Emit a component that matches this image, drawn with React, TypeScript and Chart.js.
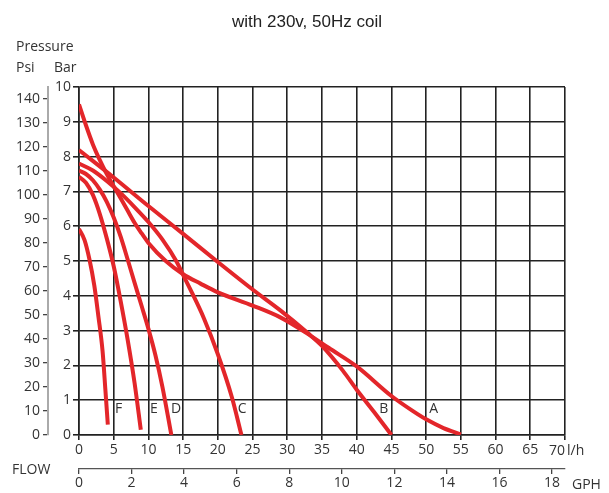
import React, { useEffect, useRef } from 'react';
import { Chart, registerables } from 'chart.js';

Chart.register(...registerables);

// ---- Data (flow in l/h, pressure in bar) ----
const aFlow = [0, 1, 2, 3, 4, 5, 6, 7, 8, 9, 10, 12.5, 15, 17.5, 20, 25, 29, 33, 36, 40, 45, 48, 50, 52.5, 55];
const aBar = [9.5, 8.9, 8.35, 7.9, 7.5, 7.15, 6.8, 6.45, 6.1, 5.8, 5.52, 5.0, 4.62, 4.35, 4.1, 3.72, 3.38, 2.9, 2.5, 1.97, 1.12, 0.7, 0.45, 0.2, 0.02];

const bFlow = [0, 5, 10, 15, 20, 25, 29, 33, 35, 38, 40, 42.5, 45];
const bBar = [8.19, 7.4, 6.58, 5.78, 4.97, 4.18, 3.58, 2.92, 2.56, 1.85, 1.3, 0.66, 0];

const cFlow = [0, 2, 4, 6, 8, 10, 12, 14, 15, 16, 18, 20, 22, 23.4];
const cBar = [7.8, 7.6, 7.3, 6.95, 6.55, 6.12, 5.62, 5.0, 4.6, 4.2, 3.35, 2.32, 1.1, 0];

const dFlow = [0, 1, 2, 3, 4, 5, 6, 7, 8, 9, 10, 11, 12, 13.3];
const dBar = [7.6, 7.5, 7.32, 7.05, 6.7, 6.25, 5.7, 5.05, 4.38, 3.72, 3.05, 2.3, 1.4, 0];

const eFlow = [0, 1, 2, 3, 4, 5, 6, 7, 8, 8.9];
const eBar = [7.42, 7.25, 6.9, 6.35, 5.65, 4.85, 3.85, 2.75, 1.5, 0.15];

const fFlow = [0, 0.8, 1.5, 2.2, 2.8, 3.4, 3.8, 4.15];
const fBar = [5.92, 5.6, 5.05, 4.3, 3.4, 2.4, 1.3, 0.3];

const curveNames = ['A', 'B', 'C', 'D', 'E', 'F'];
const curveFlows = [aFlow, bFlow, cFlow, dFlow, eFlow, fFlow];
const curveBars = [aBar, bBar, cBar, dBar, eBar, fBar];

// curve letter label positions (flow l/h, bar)
const labelFlow = [51.1, 43.9, 23.5, 14.0, 10.8, 5.7];
const labelBar = [0.75, 0.75, 0.75, 0.75, 0.75, 0.75];

const LH_PER_GAL = 3.785411784;
const PSI_PER_BAR = 14.5038;
const FLOW_MAX = 70;
const BAR_MAX = 10;

const TITLE = 'with 230v, 50Hz coil';

const FONT_FAMILY = "'Open Sans', 'Noto Sans', sans-serif";
const TICK_FONT = { family: FONT_FAMILY, size: 14 };
const TEXT_COLOR = '#333';
const RED = '#e3262a';

const textPlugin = {
  id: 'extraText',
  afterDraw(chart: any) {
    const ctx = chart.ctx;
    const xs = chart.scales.x;
    const ys = chart.scales.y;
    ctx.save();
    ctx.fillStyle = '#222';
    ctx.font = "17px 'Liberation Sans', Arial, sans-serif";
    ctx.textAlign = 'center';
    ctx.textBaseline = 'middle';
    ctx.fillText(TITLE, 307, 22);

    ctx.fillStyle = TEXT_COLOR;
    ctx.font = `14px ${FONT_FAMILY}`;
    ctx.textAlign = 'left';
    ctx.fillText('Pressure', 16, 47);
    ctx.fillText('Psi', 16, 68);
    ctx.fillText('Bar', 54, 68);
    ctx.fillText('FLOW', 12, 470);
    ctx.fillText('GPH', 572, 485);

    // last flow tick label placed left of its tick, followed by the unit
    const lastX = xs.getPixelForValue(FLOW_MAX);
    const tickY = xs.top + 16;
    ctx.textAlign = 'right';
    ctx.fillText(String(FLOW_MAX), lastX, tickY);
    ctx.textAlign = 'left';
    ctx.fillText('l/h', lastX + 2, tickY);

    ctx.textAlign = 'center';
    for (let i = 0; i < curveNames.length; i++) {
      ctx.fillText(curveNames[i], xs.getPixelForValue(labelFlow[i]), ys.getPixelForValue(labelBar[i]));
    }
    ctx.restore();
  },
};

export default function App() {
  const ref = useRef<HTMLCanvasElement | null>(null);

  useEffect(() => {
    if (!ref.current) return;
    const datasets = curveNames.map((name, i) => ({
      label: name,
      data: curveFlows[i].map((x, j) => ({ x, y: curveBars[i][j] })),
      borderColor: RED,
      backgroundColor: RED,
      borderWidth: 4,
      pointRadius: 0,
      cubicInterpolationMode: 'monotone' as const,
      fill: false,
      xAxisID: 'x',
      yAxisID: 'y',
    }));

    const chart = new Chart(ref.current, {
      type: 'line',
      data: { datasets },
      options: {
        responsive: false,
        animation: false,
        layout: { padding: { top: 87, right: 44, left: 0, bottom: 0 } },
        plugins: { legend: { display: false }, tooltip: { enabled: false }, title: { display: false } },
        scales: {
          x: {
            type: 'linear',
            position: 'bottom',
            weight: 0,
            min: 0,
            max: FLOW_MAX,
            ticks: {
              stepSize: 5, color: TEXT_COLOR, font: TICK_FONT, padding: 2, maxRotation: 0, autoSkip: false, includeBounds: false,
              callback: (v: any) => (v === FLOW_MAX ? '' : String(v)),
            },
            grid: { color: '#222', lineWidth: 1.6, tickLength: 5 },
            border: { color: '#222', width: 1.6 },
            afterFit: (s: any) => { s.height = 34; },
          },
          x2: {
            type: 'linear',
            position: 'bottom',
            weight: 1,
            min: 0,
            max: FLOW_MAX / LH_PER_GAL,
            ticks: { stepSize: 2, color: TEXT_COLOR, font: TICK_FONT, padding: 1, maxRotation: 0, autoSkip: false, includeBounds: false },
            grid: { drawOnChartArea: false, color: '#444', lineWidth: 1.3, tickLength: 5 },
            border: { color: '#555', width: 1.3 },
            afterFit: (s: any) => { s.height = 24; },
          },
          y: {
            type: 'linear',
            position: 'left',
            weight: 0,
            min: 0,
            max: BAR_MAX,
            ticks: { stepSize: 1, color: TEXT_COLOR, font: TICK_FONT, padding: 2, includeBounds: false },
            grid: { color: '#222', lineWidth: 1.6, tickLength: 6 },
            border: { color: '#222', width: 1.6 },
            afterFit: (s: any) => { s.width = 31; },
          },
          y2: {
            type: 'linear',
            position: 'left',
            weight: 1,
            min: 0,
            max: BAR_MAX * PSI_PER_BAR,
            ticks: { stepSize: 10, color: TEXT_COLOR, font: TICK_FONT, padding: 3, includeBounds: false },
            grid: { drawOnChartArea: false, color: '#444', lineWidth: 1.3, tickLength: 5 },
            border: { color: '#aaa', width: 2 },
            afterFit: (s: any) => { s.width = 48; },
          },
        },
      } as any,
      plugins: [textPlugin],
    });
    return () => chart.destroy();
  }, []);

  return (
    <div style={{ position: 'absolute', left: 0, top: 0, width: 609, height: 493, background: '#fff' }}>
      <canvas ref={ref} width={609} height={493} />
    </div>
  );
}
